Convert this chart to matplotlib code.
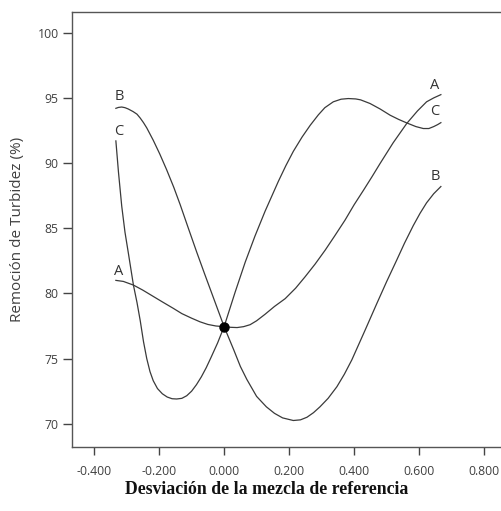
import matplotlib
matplotlib.use("Agg")
import matplotlib.pyplot as plt
from matplotlib.ticker import FormatStrFormatter

plt.rcParams['font.family'] = ['Open Sans', 'DejaVu Sans']
plt.rcParams['axes.unicode_minus'] = False

# Valores (traza de componentes)
x_a = [-0.333, -0.31, -0.279, -0.25, -0.22, -0.19, -0.156, -0.13, -0.1, -0.074, -0.05, -0.025,
       0.0, 0.02, 0.04, 0.06, 0.08, 0.1, 0.126, 0.155, 0.188, 0.22, 0.249, 0.28, 0.311, 0.34,
       0.372, 0.4, 0.429, 0.455, 0.48, 0.52, 0.562, 0.595, 0.623, 0.645, 0.667]
y_a = [81.0, 80.92, 80.64, 80.25, 79.8, 79.35, 78.85, 78.45, 78.1, 77.82, 77.62, 77.5,
       77.45, 77.4, 77.38, 77.45, 77.6, 77.9, 78.4, 79.0, 79.6, 80.4, 81.27, 82.25, 83.32, 84.4,
       85.62, 86.8, 87.92, 88.95, 89.97, 91.55, 93.04, 94.0, 94.7, 95.0, 95.25]

x_b = [-0.333, -0.325, -0.315, -0.305, -0.295, -0.28, -0.268, -0.258, -0.248, -0.238, -0.218,
       -0.198, -0.177, -0.155, -0.135, -0.11, -0.084, -0.06, -0.04, -0.02, 0.0, 0.03, 0.05, 0.07,
       0.1, 0.13, 0.155, 0.18, 0.213, 0.235, 0.255, 0.275, 0.295, 0.32, 0.347, 0.37, 0.393, 0.434,
       0.47, 0.5, 0.531, 0.555, 0.582, 0.603, 0.623, 0.645, 0.667]
y_b = [94.2, 94.27, 94.3, 94.25, 94.15, 93.95, 93.75, 93.45, 93.1, 92.7, 91.75,
       90.7, 89.5, 88.15, 86.8, 85.0, 83.15, 81.5, 80.15, 78.8, 77.45, 75.65, 74.4, 73.4,
       72.1, 71.3, 70.8, 70.45, 70.25, 70.3, 70.5, 70.85, 71.3, 71.95, 72.84, 73.8, 74.9, 77.19,
       79.23, 80.9, 82.55, 83.85, 85.2, 86.15, 86.95, 87.65, 88.2]

x_c = [-0.333, -0.325, -0.315, -0.305, -0.294, -0.279, -0.268, -0.258, -0.248, -0.238, -0.228,
       -0.218, -0.205, -0.19, -0.175, -0.16, -0.146, -0.13, -0.115, -0.1, -0.085, -0.07, -0.055,
       -0.04, -0.02, 0.0, 0.034, 0.065, 0.095, 0.126, 0.167, 0.19, 0.213, 0.24, 0.265, 0.29,
       0.31, 0.336, 0.36, 0.382, 0.405, 0.42, 0.449, 0.48, 0.511, 0.537, 0.562, 0.59, 0.613,
       0.63, 0.645, 0.657, 0.667]
y_c = [91.7, 89.3, 86.7, 84.7, 83.0, 80.64, 79.3, 77.9, 76.3, 75.0, 74.0,
       73.3, 72.7, 72.3, 72.05, 71.92, 71.9, 71.95, 72.15, 72.5, 73.0, 73.6, 74.3,
       75.1, 76.2, 77.45, 80.1, 82.4, 84.4, 86.3, 88.6, 89.8, 90.9, 92.0, 92.9, 93.7,
       94.25, 94.7, 94.9, 94.95, 94.92, 94.85, 94.57, 94.15, 93.67, 93.35, 93.08, 92.8, 92.65,
       92.65, 92.8, 92.95, 93.1]

x_ticks = [-0.4, -0.2, 0.0, 0.2, 0.4, 0.6, 0.8]
y_ticks = [70, 75, 80, 85, 90, 95, 100]

fig = plt.figure(figsize=(5.01, 5.11), dpi=100)
ax = fig.add_axes([72 / 501, 1 - 446.7 / 511, (501 - 72) / 501, (446.7 - 12) / 511])

line_col = '#3a3a3a'
ax.plot(x_a, y_a, color=line_col, lw=0.9)
ax.plot(x_b, y_b, color=line_col, lw=0.9)
ax.plot(x_c, y_c, color=line_col, lw=0.9)
ax.plot([0.0], [77.45], 'o', color='black', ms=6.5, zorder=5)

lab_size = 10.5
ax.text(-0.323, 95.07, 'B', fontsize=lab_size, color='#333333', ha='center', va='center')
ax.text(-0.323, 92.39, 'C', fontsize=lab_size, color='#333333', ha='center', va='center')
ax.text(-0.323, 81.66, 'A', fontsize=lab_size, color='#333333', ha='center', va='center')
ax.text(0.649, 95.97, 'A', fontsize=lab_size, color='#333333', ha='center', va='center')
ax.text(0.649, 93.93, 'C', fontsize=lab_size, color='#333333', ha='center', va='center')
ax.text(0.649, 88.94, 'B', fontsize=lab_size, color='#333333', ha='center', va='center')

ax.set_xlim(-0.468, 0.852)
ax.set_ylim(68.24, 101.59)
ax.set_xticks(x_ticks)
ax.set_yticks(y_ticks)
ax.xaxis.set_major_formatter(FormatStrFormatter('%.3f'))
ax.tick_params(axis='x', direction='out', length=6, width=1, color='#444444',
               labelsize=8.8, labelcolor='#404040', pad=7)
ax.tick_params(axis='y', direction='out', length=6.5, width=1, color='#444444',
               labelsize=8.8, labelcolor='#404040', pad=3)

for s in ['left', 'bottom', 'top']:
    ax.spines[s].set_color('#555555')
    ax.spines[s].set_linewidth(1.0)
ax.spines['right'].set_visible(False)

fig.text(18 / 501, 1 - 229 / 511, 'Remoción de Turbidez (%)', rotation=90, fontsize=11,
         color='#404040', ha='center', va='center')
fig.text(266.5 / 501, 1 - 489 / 511, 'Desviación de la mezcla de referencia',
         family='Liberation Serif', fontweight='bold', fontsize=12.8, color='#111111',
         ha='center', va='center')

fig.savefig('out.png', dpi=100)
